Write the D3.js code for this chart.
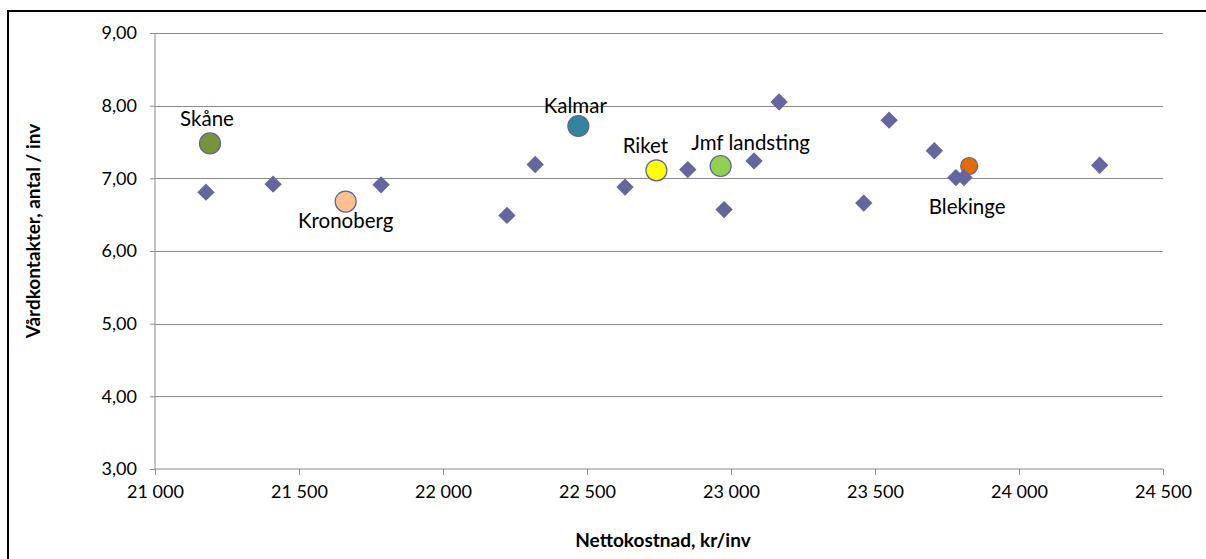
<!DOCTYPE html>
<html>
<head>
<meta charset="utf-8">
<script src="https://cdn.jsdelivr.net/npm/d3@7"></script>
<style>
  body { margin: 0; background: #fff; }
  text { font-family: Lato, "Open Sans", sans-serif; fill: #000; }
  .tick text { font-size: 18px; }
  .axisTitle { font-size: 19px; font-weight: bold; }
  .ptLabel { font-size: 20.5px; }
</style>
</head>
<body>
<div id="scatter"></div>
<script>
// landsting (unnamed diamonds)
var costs = [21177, 21410, 21785, 22222, 22320, 22632, 22850, 22976, 23080, 23167, 23461, 23549, 23706, 23781, 23809, 24280];
var visits = [6.81, 6.92, 6.91, 6.49, 7.19, 6.88, 7.12, 6.57, 7.24, 8.05, 6.66, 7.80, 7.38, 7.01, 7.01, 7.18];

// highlighted points
var names = ["Skåne", "Kronoberg", "Kalmar", "Riket", "Jmf landsting", "Blekinge"];
var namedCosts = [21191, 21662, 22470, 22741, 22964, 23827];
var namedVisits = [7.48, 6.68, 7.72, 7.11, 7.17, 7.17];

var xTicks = [21000, 21500, 22000, 22500, 23000, 23500, 24000, 24500];
var yTicks = [3, 4, 5, 6, 7, 8, 9];

var colors = {
  "Skåne": "#77933c",
  "Kronoberg": "#fac090",
  "Kalmar": "#31859c",
  "Riket": "#ffff00",
  "Jmf landsting": "#92d050",
  "Blekinge": "#e36c09"
};
// label offset from point [dx, dy]
var labelPos = {
  "Skåne": [-3, -17],
  "Kronoberg": [0, 26],
  "Kalmar": [-3, -13],
  "Riket": [-11, -17],
  "Jmf landsting": [30, -16],
  "Blekinge": [-2, 48]
};

var svgWidth = 1206;
var svgHeight = 559;

var margin = { top: 33, right: 43, bottom: 90, left: 155 };
var width = svgWidth - margin.left - margin.right;
var height = svgHeight - margin.top - margin.bottom;

var svg = d3.select("#scatter")
  .append("svg")
  .attr("width", svgWidth)
  .attr("height", svgHeight);

// outer chart frame
svg.append("rect")
  .attr("x", 8)
  .attr("y", 11)
  .attr("width", 1300)
  .attr("height", 700)
  .attr("fill", "none")
  .attr("stroke", "#000")
  .attr("stroke-width", 2);

var chartGroup = svg.append("g")
  .attr("transform", `translate(${margin.left}, ${margin.top})`);

var x = d3.scaleLinear().domain([21000, 24500]).range([0, width]);
var y = d3.scaleLinear().domain([3, 9]).range([height, 0]);

var sv = d3.formatLocale({ decimal: ",", thousands: " ", grouping: [3], currency: ["", " kr"] });

// gridlines
chartGroup.selectAll(".grid")
  .data(yTicks.slice(1))
  .enter()
  .append("line")
  .attr("x1", 0)
  .attr("x2", width)
  .attr("y1", d => Math.round(y(d)) + 0.5)
  .attr("y2", d => Math.round(y(d)) + 0.5)
  .attr("stroke", "#8a8a8a")
  .attr("stroke-width", 1);

var bottomAxis = d3.axisBottom(x).tickValues(xTicks).tickFormat(sv.format(",d")).tickSize(6).tickPadding(10);
var leftAxis = d3.axisLeft(y).tickValues(yTicks).tickFormat(sv.format(".2f")).tickSize(5).tickPadding(13);

var xg = chartGroup.append("g")
  .attr("transform", `translate(0, ${height})`)
  .call(bottomAxis);

var yg = chartGroup.append("g")
  .call(leftAxis);

[xg, yg].forEach(function(g) {
  g.select(".domain").attr("stroke", "#8a8a8a");
  g.selectAll(".tick line").attr("stroke", "#8a8a8a");
  g.selectAll(".tick text").attr("fill", "#000");
});
yg.select(".domain").attr("d", `M0,0V${height}`);
xg.select(".domain").attr("d", `M0,0H${width}`);

// named circles (behind the diamonds)
var named = names.map(function(n, i) {
  return { name: n, cost: namedCosts[i], visits: namedVisits[i] };
});

chartGroup.selectAll(".named")
  .data(named)
  .enter()
  .append("circle")
  .attr("cx", d => x(d.cost))
  .attr("cy", d => y(d.visits))
  .attr("r", d => d.name == "Blekinge" ? 8.5 : 10.5)
  .attr("fill", d => colors[d.name])
  .attr("stroke", "#60609c")
  .attr("stroke-width", 1.2);

// diamonds
var diamond = d3.symbol().type(d3.symbolSquare).size(150);

chartGroup.selectAll(".dia")
  .data(costs)
  .enter()
  .append("path")
  .attr("d", diamond)
  .attr("transform", (d, i) => `translate(${x(d)}, ${y(visits[i])}) rotate(45)`)
  .attr("fill", "#65659f");

chartGroup.selectAll(".ptLabel")
  .data(named)
  .enter()
  .append("text")
  .attr("class", "ptLabel")
  .attr("x", d => x(d.cost) + labelPos[d.name][0])
  .attr("y", d => y(d.visits) + labelPos[d.name][1])
  .attr("text-anchor", "middle")
  .text(d => d.name);

// axis titles
svg.append("text")
  .attr("class", "axisTitle")
  .attr("transform", "translate(40, 231) rotate(-90)")
  .attr("text-anchor", "middle")
  .text("Vårdkontakter, antal / inv");

svg.append("text")
  .attr("class", "axisTitle")
  .attr("x", 663)
  .attr("y", 547)
  .attr("text-anchor", "middle")
  .text("Nettokostnad, kr/inv");
</script>
</body>
</html>
